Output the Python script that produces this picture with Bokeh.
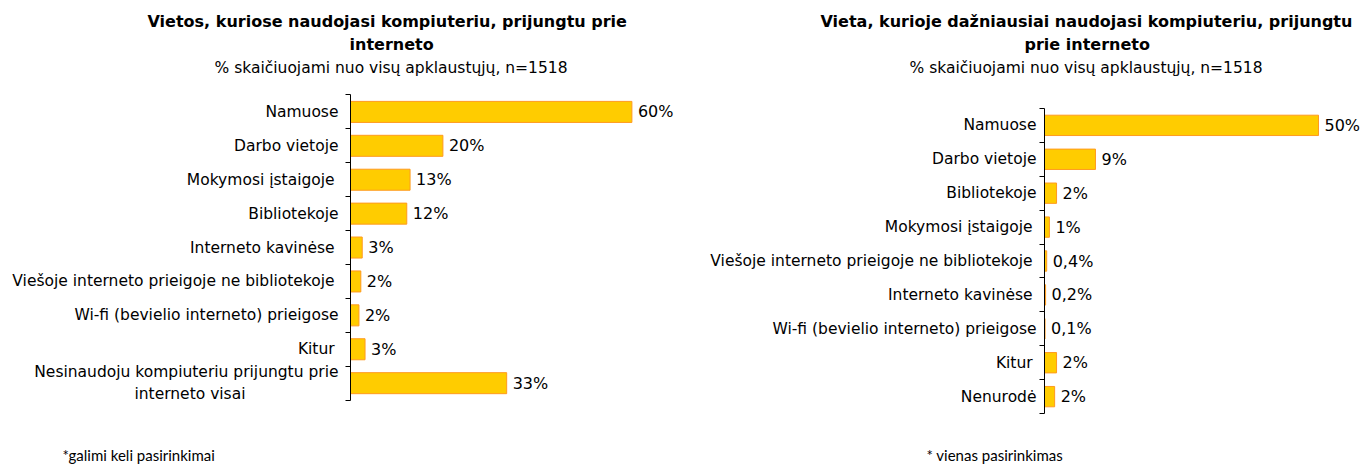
from bokeh.plotting import figure
from bokeh.models import ColumnDataSource, FixedTicker, Range1d, LabelSet, Title
from bokeh.layouts import row
from bokeh.embed import file_html
from bokeh.resources import INLINE
from bokeh.core.properties import value

SP = "\u2005"
EM = "\u2003"

left_categories = ["Namuose", "Darbo vietoje", "Mokymosi įstaigoje" + SP, "Bibliotekoje",
                   "Interneto kavinėse" + SP, "Viešoje interneto prieigoje ne bibliotekoje" + SP,
                   "Wi-fi (bevielio interneto) prieigose", "Kitur" + SP,
                   "Nesinaudoju kompiuteriu prijungtu prie\ninterneto visai" + EM * 6]
left_values = [60, 19.7, 12.7, 12.0, 2.5, 2.2, 1.8, 3.1, 33.3]
left_labels = ["60%", "20%", "13%", "12%", "3%", "2%", "2%", "3%", "33%"]

right_categories = ["Namuose", "Darbo vietoje", "Bibliotekoje", "Mokymosi įstaigoje" + SP,
                    "Viešoje interneto prieigoje ne bibliotekoje" + SP, "Interneto kavinėse" + SP,
                    "Wi-fi (bevielio interneto) prieigose", "Kitur" + SP, "Nenurodė"]
right_values = [50, 9.3, 2.2, 0.9, 0.4, 0.2, 0.1, 2.2, 1.85]
right_labels = ["50%", "9%", "2%", "1%", "0,4%", "0,2%", "0,1%", "2%", "2%"]

left_title = ["Vietos, kuriose naudojasi kompiuteriu, prijungtu prie", "interneto"]
right_title = ["Vieta, kurioje dažniausiai naudojasi kompiuteriu, prijungtu", "prie interneto"]
subtitle = "% skaičiuojami nuo visų apklaustųjų, n=1518"
left_note = "*galimi keli pasirinkimai"
right_note = "* vienas pasirinkimas"

FONT = "DejaVu Sans"
FILL = "#FFCC00"
EDGE = "#FF9A1F"

TOP = 79      # frame top (px)
BOTTOM = 445  # frame bottom (px)


def make_chart(cats, vals, labs, title_lines, note, width, x_end, b_left, b_right,
               first_row_px, standoff, bar_h, title_offsets, note_offset):
    n = len(cats)
    idx = list(range(n))
    src = ColumnDataSource(dict(y=idx, v=vals, lab=labs))
    row_px = 34.0
    y_top = (TOP - first_row_px) / row_px
    y_bottom = (BOTTOM - first_row_px) / row_px
    p = figure(width=width, height=464, output_backend="svg", toolbar_location=None,
               x_range=Range1d(0, x_end), y_range=Range1d(y_bottom, y_top),
               min_border_left=b_left, min_border_top=TOP, min_border_bottom=464 - BOTTOM,
               min_border_right=b_right, title=None)
    p.outline_line_color = None
    p.xgrid.visible = False
    p.ygrid.visible = False
    p.xaxis.visible = False
    p.hbar(y="y", left=0, right="v", height=bar_h, source=src, fill_color=FILL,
           line_color=EDGE, line_width=1)
    ax = p.yaxis[0]
    ax.bounds = (-0.5, n - 0.5)
    ax.ticker = FixedTicker(ticks=idx, minor_ticks=[i - 0.5 for i in range(n + 1)])
    ax.major_label_overrides = {i: c for i, c in enumerate(cats)}
    ax.major_tick_out = 0
    ax.major_tick_in = 0
    ax.major_tick_line_color = None
    ax.minor_tick_out = 5
    ax.minor_tick_in = 0
    ax.minor_tick_line_color = "#000000"
    ax.axis_line_color = "#000000"
    ax.major_label_standoff = standoff
    ax.major_label_text_font = FONT
    ax.major_label_text_font_size = "15.5px"
    ax.major_label_text_color = "#000000"
    p.add_layout(LabelSet(x="v", y="y", text="lab", source=src, x_offset=6,
                          text_baseline="middle", text_font=value(FONT),
                          text_font_size="16px", text_color="#000000"))
    # titles: first added is closest to the frame
    p.add_layout(Title(text=subtitle, align="left", offset=title_offsets[2], standoff=6,
                       text_font=FONT, text_font_size="15.5px", text_font_style="normal",
                       text_color="#000000"), "above")
    p.add_layout(Title(text=title_lines[1], align="left", offset=title_offsets[1], standoff=0,
                       text_font=FONT, text_font_size="16px", text_font_style="bold",
                       text_color="#000000"), "above")
    p.add_layout(Title(text=title_lines[0], align="left", offset=title_offsets[0], standoff=4,
                       text_font=FONT, text_font_size="16px", text_font_style="bold",
                       text_color="#000000"), "above")
    p.add_layout(Title(text=note, align="left", offset=note_offset, standoff=0,
                       vertical_align="middle",
                       text_font="Lato", text_font_size="15px", text_font_style="normal",
                       text_color="#000000"), "below")
    return p


# left frame: x 350..677, rows centred at 111.5 + 34*k
p1 = make_chart(left_categories, left_values, left_labels, left_title, left_note,
                width=682, x_end=327 / 4.69, b_left=350, b_right=5, first_row_px=111.5,
                standoff=7, bar_h=0.62, title_offsets=[-203, -1, -136], note_offset=-288)
# right frame: x 1044..1361, rows centred at 125 + 34*k
p2 = make_chart(right_categories, right_values, right_labels, right_title, right_note,
                width=679, x_end=317 / 5.48, b_left=362, b_right=0, first_row_px=125,
                standoff=3, bar_h=0.6, title_offsets=[-224, -20, -135], note_offset=-118)

layout = row(p1, p2)
open("out.html", "w").write(file_html(layout, INLINE))
